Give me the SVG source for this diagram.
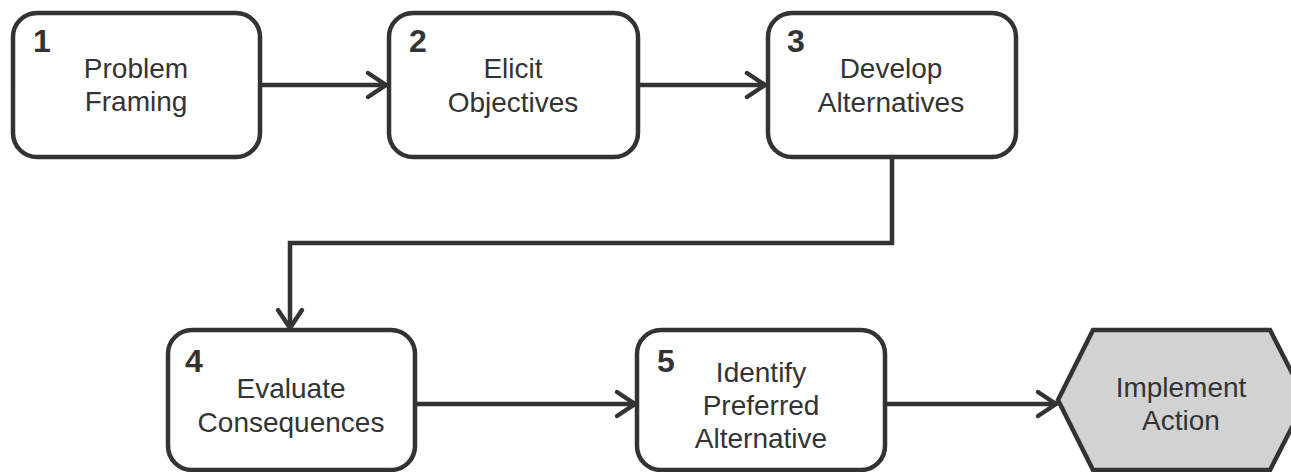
<svg xmlns="http://www.w3.org/2000/svg" width="1291" height="472" viewBox="0 0 1291 472">
<style>
.box{fill:#fff;stroke:#333;stroke-width:4.5}
.hex{fill:#d2d2d2;stroke:#333;stroke-width:4.5;stroke-linejoin:miter}
.lbl{font-family:"Liberation Sans",Arial,sans-serif;font-size:28px;fill:#333;text-anchor:middle}
.num{font-family:"Liberation Sans",Arial,sans-serif;font-size:32px;font-weight:bold;fill:#333}
.con{fill:none;stroke:#333;stroke-width:4.5}
</style>
<defs>
<marker id="arr" markerUnits="userSpaceOnUse" markerWidth="34" markerHeight="34" viewBox="-24 -17 30 34" refX="0" refY="0" orient="auto">
<path d="M-18,-12 L0,0 L-18,12" fill="none" stroke="#333" stroke-width="4.5" stroke-linecap="round" stroke-linejoin="miter"/>
</marker>
</defs>
<g id="connectors">
<path class="con" d="M260,85 H386" marker-end="url(#arr)"/>
<path class="con" d="M638,85 H765" marker-end="url(#arr)"/>
<path class="con" d="M892,157 V243 H290 V328" marker-end="url(#arr)"/>
<path class="con" d="M415,404 H635" marker-end="url(#arr)"/>
<path class="con" d="M885,404 H1056" marker-end="url(#arr)"/>
</g>
<g id="node1">
<rect class="box" x="13" y="13" width="247" height="144" rx="24"/>
<text class="num" x="33" y="52">1</text>
<text class="lbl" x="136" y="78">Problem</text>
<text class="lbl" x="136" y="111">Framing</text>
</g>
<g id="node2">
<rect class="box" x="389" y="13" width="249" height="144" rx="24"/>
<text class="num" x="409" y="52">2</text>
<text class="lbl" x="513" y="78">Elicit</text>
<text class="lbl" x="513" y="112">Objectives</text>
</g>
<g id="node3">
<rect class="box" x="768" y="13" width="248" height="144" rx="24"/>
<text class="num" x="787" y="52">3</text>
<text class="lbl" x="891" y="78">Develop</text>
<text class="lbl" x="891" y="112">Alternatives</text>
</g>
<g id="node4">
<rect class="box" x="168" y="330" width="247" height="140" rx="24"/>
<text class="num" x="185" y="372">4</text>
<text class="lbl" x="291" y="398">Evaluate</text>
<text class="lbl" x="291" y="432">Consequences</text>
</g>
<g id="node5">
<rect class="box" x="637" y="330" width="248" height="140" rx="24"/>
<text class="num" x="657" y="372">5</text>
<text class="lbl" x="761" y="382">Identify</text>
<text class="lbl" x="761" y="415">Preferred</text>
<text class="lbl" x="761" y="448">Alternative</text>
</g>
<g id="node6">
<polygon class="hex" points="1093,330 1270,330 1306,400 1270,470 1093,470 1058,400"/>
<text class="lbl" x="1181" y="397">Implement</text>
<text class="lbl" x="1181" y="430">Action</text>
</g>
</svg>
